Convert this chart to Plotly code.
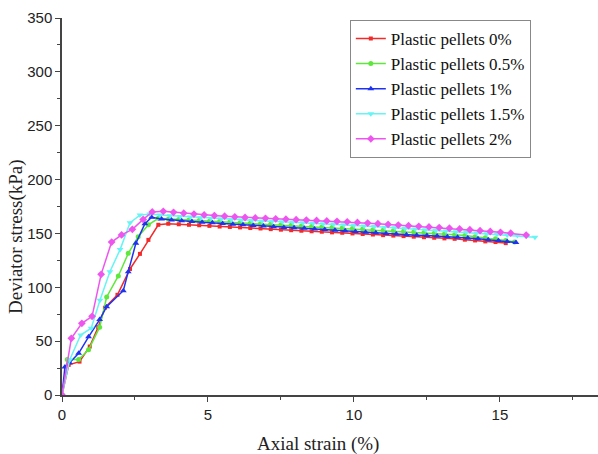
import plotly.graph_objects as go

# ---------------- data ----------------
names = ["Plastic pellets 0%", "Plastic pellets 0.5%", "Plastic pellets 1%",
         "Plastic pellets 1.5%", "Plastic pellets 2%"]

x_0 = [0, 0.23, 0.6, 0.95, 1.24, 1.47, 1.9, 2.33, 2.67, 2.96, 3.3,
       3.64, 4.0, 4.35, 4.7, 5.05, 5.4, 5.75, 6.1, 6.45, 6.8, 7.15, 7.5, 7.85,
       8.2, 8.55, 8.9, 9.25, 9.6, 9.95, 10.3, 10.65, 11.0, 11.35, 11.7, 12.05,
       12.4, 12.75, 13.1, 13.45, 13.8, 14.15, 14.5, 14.85, 15.2]
y_0 = [0, 28, 31, 45, 63, 81, 93, 117, 131, 144, 158,
       159, 158.5, 158, 157.6, 157, 156.4, 156, 155.6, 155, 154.6, 154, 153.5, 153,
       152.5, 152, 151.6, 151, 150.6, 150, 149.5, 149, 148.4, 148, 147.5, 147,
       146.5, 146, 145.4, 145, 144.2, 143.5, 142.6, 142, 141]

x_05 = [0, 0.18, 0.57, 0.91, 1.29, 1.53, 1.93, 2.27, 2.61, 2.96,
        3.3, 3.65, 4.0, 4.35, 4.7, 5.05, 5.4, 5.75, 6.1, 6.45, 6.8, 7.15, 7.5,
        7.85, 8.2, 8.55, 8.9, 9.25, 9.6, 9.95, 10.3, 10.65, 11.0, 11.35, 11.7,
        12.05, 12.4, 12.75, 13.1, 13.45, 13.8, 14.15, 14.5, 14.85, 15.2, 15.5]
y_05 = [0, 33, 33, 42, 63, 91, 110.5, 131.5, 147, 158,
        164, 163.5, 163, 162.4, 162, 161.4, 161, 160.5, 160, 159.5, 159, 158.5, 158,
        157.5, 157, 156.5, 156, 155.4, 155, 154.5, 154, 153.4, 153, 152.4, 152,
        151.4, 150.8, 150.2, 149.5, 148.8, 148, 147, 146, 145, 143.5, 142]

x_1 = [0, 0.1, 0.26, 0.57, 0.91, 1.29, 1.53, 2.1, 2.27, 2.53, 2.84, 3.07,
       3.41, 3.75, 4.1, 4.45, 4.8, 5.15, 5.5, 5.85, 6.2, 6.55, 6.9, 7.25, 7.6,
       7.95, 8.3, 8.65, 9.0, 9.35, 9.7, 10.05, 10.4, 10.75, 11.1, 11.45, 11.8,
       12.15, 12.5, 12.85, 13.2, 13.55, 13.9, 14.25, 14.6, 14.95, 15.25, 15.55]
y_1 = [0, 26, 30, 38.7, 54, 70, 82, 96.8, 114.5, 140.8, 159, 165,
       163.5, 162.5, 161.8, 161, 160.4, 159.8, 159.2, 158.6, 158, 157.4, 156.8, 156.2, 155.6,
       155.2, 154.8, 154.2, 153.6, 153, 152.4, 151.8, 151.2, 150.6, 150, 149.4, 148.8,
       148.4, 148, 147.6, 147, 146.4, 145.8, 145, 144.2, 143.4, 142.5, 141.5]

x_15 = [0, 0.26, 0.64, 1.0, 1.3, 1.64, 1.99, 2.33, 2.67, 3.01,
        3.35, 3.7, 4.05, 4.4, 4.75, 5.1, 5.45, 5.8, 6.15, 6.5, 6.85, 7.2, 7.55,
        7.9, 8.25, 8.6, 8.95, 9.3, 9.65, 10.0, 10.35, 10.7, 11.05, 11.4, 11.75,
        12.1, 12.45, 12.8, 13.15, 13.5, 13.85, 14.2, 14.55, 14.9, 15.25, 15.6,
        15.9, 16.2]
y_15 = [0, 32.5, 55.7, 62, 88, 114.5, 135, 160, 167, 168,
        167, 166.4, 165.8, 165.2, 164.6, 164, 163.4, 162.8, 162.4, 162, 161.6, 161.2, 160.8,
        160.4, 160, 159.5, 159, 158.5, 158, 157.5, 157, 156.4, 155.8, 155.2, 154.6,
        154, 153.4, 152.8, 152.2, 151.6, 151, 150.4, 149.8, 149.2, 148.6, 148,
        147.4, 146.5]

x_2 = [0, 0.32, 0.68, 1.03, 1.34, 1.7, 2.04, 2.41, 2.78, 3.09,
       3.47, 3.82, 4.17, 4.52, 4.87, 5.22, 5.57, 5.92, 6.27, 6.62, 6.97, 7.32,
       7.67, 8.02, 8.37, 8.72, 9.07, 9.42, 9.77, 10.12, 10.47, 10.82, 11.17,
       11.52, 11.87, 12.22, 12.57, 12.92, 13.27, 13.62, 13.97, 14.32, 14.67,
       15.02, 15.37, 15.9]
y_2 = [0, 52.6, 66.5, 73, 112, 142, 148.6, 153.8, 163, 170,
       170.5, 169.6, 168.8, 168, 167.2, 166.6, 166, 165.4, 164.8, 164.4, 164, 163.6,
       163.2, 162.8, 162.4, 162, 161.6, 161.2, 160.8, 160.2, 159.6, 159, 158.4,
       157.8, 157.2, 156.6, 156, 155.4, 154.8, 154.2, 153.4, 152.6, 151.8,
       151, 150.2, 148.5]

series_x = [x_0, x_05, x_1, x_15, x_2]
series_y = [y_0, y_05, y_1, y_15, y_2]
colors = ["#F22A2A", "#5FE83C", "#1E32F0", "#66F4F4", "#EE55EE"]
symbols = ["square", "circle", "triangle-up", "triangle-down", "diamond"]
sizes = [4, 5, 6, 6, 6]

x_ticks = [0, 5, 10, 15]
y_ticks = [0, 50, 100, 150, 200, 250, 300, 350]

# ---------------- figure ----------------
fig = go.Figure()
for nm, xs, ys, c, s, sz in zip(names, series_x, series_y, colors, symbols, sizes):
    fig.add_trace(go.Scatter(
        x=xs, y=ys, name=nm, mode="lines+markers",
        line=dict(color=c, width=1.5),
        marker=dict(color=c, symbol=s, size=sz, line=dict(width=0)),
    ))

axis_common = dict(
    showline=True, linecolor="#444444", linewidth=1.5,
    ticks="outside", ticklen=5, tickwidth=1.2, tickcolor="#444444",
    showgrid=False, zeroline=False, mirror=False,
    tickfont=dict(family="Liberation Sans, Arial", size=15, color="#222222"),
)

title_font = dict(family="Liberation Serif, Times New Roman", size=19, color="#222222")

fig.update_layout(
    width=598, height=454,
    margin=dict(l=62, r=0, t=18, b=59),
    paper_bgcolor="white", plot_bgcolor="white",
    showlegend=True,
    legend=dict(
        x=0.537, y=0.995, xanchor="left", yanchor="top",
        bordercolor="#888888", borderwidth=1, bgcolor="white",
        font=dict(family="Liberation Serif, Times New Roman", size=17, color="#111111"),
        tracegroupgap=0, itemsizing="trace",
    ),
    xaxis=dict(
        range=[0, 18.36], tickvals=x_ticks, ticktext=[str(v) for v in x_ticks],
        minor=dict(ticks="outside", ticklen=3, dtick=2.5, tick0=0, tickcolor="#444444"),
        **axis_common,
    ),
    yaxis=dict(
        range=[0, 350], tickvals=y_ticks, ticktext=[str(v) for v in y_ticks],
        minor=dict(ticks="outside", ticklen=3, dtick=25, tick0=0, tickcolor="#444444"),
        **axis_common,
    ),
    annotations=[
        dict(text="Axial strain (%)", xref="paper", yref="paper",
             x=(318 - 62) / 536, y=-(444 - 395) / 377, xanchor="center", yanchor="middle",
             showarrow=False, font=title_font),
        dict(text="Deviator stress(kPa)", xref="paper", yref="paper",
             x=-(62 - 16) / 536, y=(395 - 237) / 377, xanchor="center", yanchor="middle",
             textangle=-90, showarrow=False, font=title_font),
    ],
)

fig.write_html("out.html")
